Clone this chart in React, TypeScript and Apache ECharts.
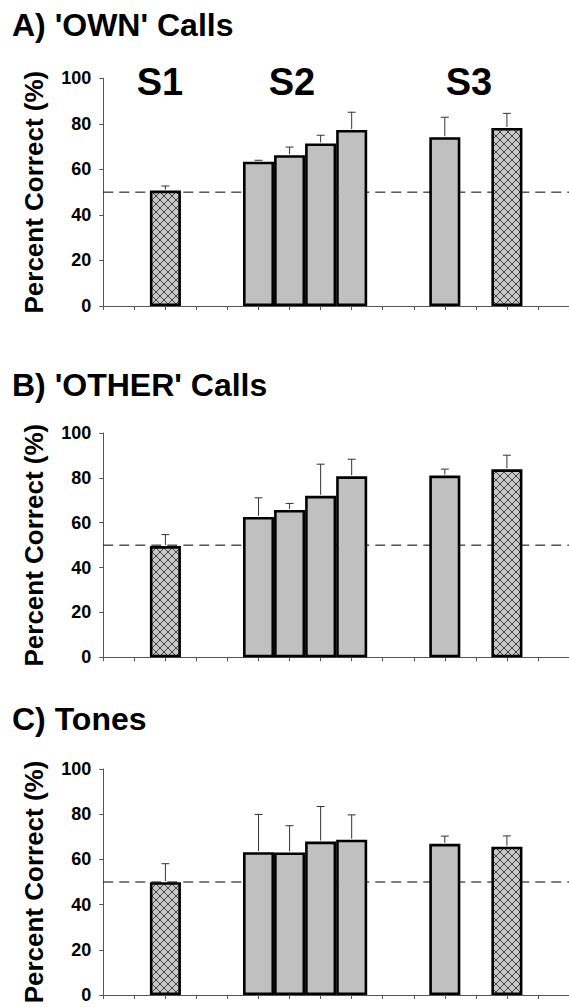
import React, { useEffect, useRef } from 'react';
import * as echarts from 'echarts';

// 16 category slots along each x axis; bars sit at BAR_SLOTS
const SLOTS = ['', '', 'S1', '', '', 'S2-1', 'S2-2', 'S2-3', 'S2-4', '', '', 'S3-1', '', 'S3-2', '', ''];
const BAR_SLOTS = [2, 5, 6, 7, 8, 11, 13];
const HATCHED = [true, false, false, false, false, false, true];

const OWN_MEANS = [50.7, 63.4, 66.2, 71.4, 77.3, 74.1, 78.2];
const OWN_ERRS = [2.0, 0.6, 3.6, 3.6, 7.8, 8.8, 6.4];
const OTHER_MEANS = [49.6, 62.6, 65.7, 72.0, 80.7, 81.0, 83.8];
const OTHER_ERRS = [5.1, 8.5, 2.9, 14.1, 7.6, 2.9, 6.3];
const TONES_MEANS = [49.9, 63.2, 63.1, 67.9, 68.7, 66.9, 65.6];
const TONES_ERRS = [8.2, 16.7, 11.8, 15.5, 11.0, 3.4, 4.8];

const Y_MIN = 0;
const Y_MAX = 100;
const Y_STEP = 20;
const CHANCE = 50;
const Y_NAME = 'Percent Correct (%)';
const PANEL_TITLES = ["A) 'OWN' Calls", "B) 'OTHER' Calls", 'C) Tones'];
const STAGE_LABELS = ['S1', 'S2', 'S3'];

const FONT = "'Liberation Sans', Arial, Helvetica, sans-serif";

const GRIDS = [
  { top: 78.3, height: 227.7 },
  { top: 433, height: 224.3 },
  { top: 769, height: 226 },
];
const TITLE_Y = [25, 385, 719];
const STAGE_X = [160, 292, 469];
const STAGE_Y = 82;

export default function App() {
  const ref = useRef<HTMLDivElement>(null);

  useEffect(() => {
    if (!ref.current) return;
    const canvas = document.createElement('canvas');
    canvas.width = 8;
    canvas.height = 8;
    const ctx = canvas.getContext('2d');
    if (ctx) {
      ctx.fillStyle = '#c8c8c8';
      ctx.fillRect(0, 0, 8, 8);
      ctx.strokeStyle = '#404040';
      ctx.lineWidth = 1;
      ctx.beginPath();
      ctx.moveTo(0, 0);
      ctx.lineTo(8, 8);
      ctx.moveTo(8, 0);
      ctx.lineTo(0, 8);
      ctx.stroke();
    }
    const hatch: any = { image: canvas, repeat: 'repeat' };

    const chart = echarts.init(ref.current, null, { renderer: 'svg' });

    const panels = [
      { means: OWN_MEANS, errs: OWN_ERRS },
      { means: OTHER_MEANS, errs: OTHER_ERRS },
      { means: TONES_MEANS, errs: TONES_ERRS },
    ];

    const grid = GRIDS.map((g) => ({ left: 103.3, right: -3, top: g.top, height: g.height }));
    const xAxis = GRIDS.map((_, i) => ({
      type: 'category',
      gridIndex: i,
      data: SLOTS,
      boundaryGap: false,
      axisLine: { show: true, lineStyle: { color: '#555', width: 1 } },
      axisTick: { show: true, interval: 0, length: 4, lineStyle: { color: '#555', width: 1 } },
      axisLabel: { show: false },
      splitLine: { show: false },
    }));
    const yAxis = GRIDS.map((_, i) => ({
      type: 'value',
      gridIndex: i,
      min: Y_MIN,
      max: Y_MAX,
      interval: Y_STEP,
      axisLine: { show: true, lineStyle: { color: '#555', width: 1 } },
      axisTick: { show: true, length: 4, lineStyle: { color: '#555', width: 1 } },
      axisLabel: { color: '#000', fontSize: 18, fontWeight: 'bold', fontFamily: FONT, margin: 12 },
      splitLine: { show: false },
      name: Y_NAME,
      nameLocation: 'middle',
      nameGap: 56,
      nameRotate: 90,
      nameTextStyle: { color: '#000', fontSize: 26, fontWeight: 'bold', fontFamily: FONT },
    }));

    const series: any[] = [];
    panels.forEach((p, i) => {
      series.push({
        type: 'line',
        xAxisIndex: i,
        yAxisIndex: i,
        data: [[0, CHANCE], [SLOTS.length - 1, CHANCE]],
        symbol: 'none',
        silent: true,
        lineStyle: { color: '#000', width: 1, type: [10, 6] },
        z: 1,
      });
      const barData = SLOTS.map((_, s) => {
        const k = BAR_SLOTS.indexOf(s);
        if (k < 0) return null;
        return HATCHED[k]
          ? { value: p.means[k], itemStyle: { color: hatch } }
          : { value: p.means[k] };
      });
      series.push({
        type: 'bar',
        xAxisIndex: i,
        yAxisIndex: i,
        data: barData,
        barWidth: '100%',
        itemStyle: { color: '#c0c0c0', borderColor: '#000', borderWidth: 2.6 },
        z: 2,
      });
      series.push({
        type: 'custom',
        xAxisIndex: i,
        yAxisIndex: i,
        data: BAR_SLOTS.map((s, k) => [s, p.means[k], p.errs[k]]),
        encode: { x: 0, y: 1 },
        z: 3,
        silent: true,
        renderItem: (params: any, api: any) => {
          const x = api.value(0);
          const m = api.value(1);
          const e = api.value(2);
          const base = api.coord([x, m]);
          const top = api.coord([x, m + e]);
          return {
            type: 'group',
            children: [
              { type: 'line', shape: { x1: base[0], y1: base[1] - 1, x2: top[0], y2: top[1] }, style: { stroke: '#333', lineWidth: 1 } },
              { type: 'line', shape: { x1: top[0] - 4, y1: top[1], x2: top[0] + 4, y2: top[1] }, style: { stroke: '#333', lineWidth: 1 } },
            ],
          };
        },
      });
    });

    const graphic: any[] = [];
    PANEL_TITLES.forEach((t, i) => {
      graphic.push({
        type: 'text',
        x: 12,
        y: TITLE_Y[i],
        style: {
          text: t,
          fill: '#000',
          fontSize: 32,
          fontWeight: 'bold',
          fontFamily: FONT,
          align: 'left',
          verticalAlign: 'middle',
        },
      });
    });
    STAGE_LABELS.forEach((t, i) => {
      graphic.push({
        type: 'text',
        x: STAGE_X[i],
        y: STAGE_Y,
        style: {
          text: t,
          fill: '#000',
          fontSize: 38,
          fontWeight: 'bold',
          fontFamily: FONT,
          align: 'center',
          verticalAlign: 'middle',
        },
      });
    });

    chart.setOption({
      animation: false,
      backgroundColor: '#fff',
      grid,
      xAxis,
      yAxis,
      series,
      graphic,
    } as any);

    return () => chart.dispose();
  }, []);

  return (
    <div
      ref={ref}
      style={{ position: 'absolute', left: 0, top: 0, width: 569, height: 1007 }}
    />
  );
}
